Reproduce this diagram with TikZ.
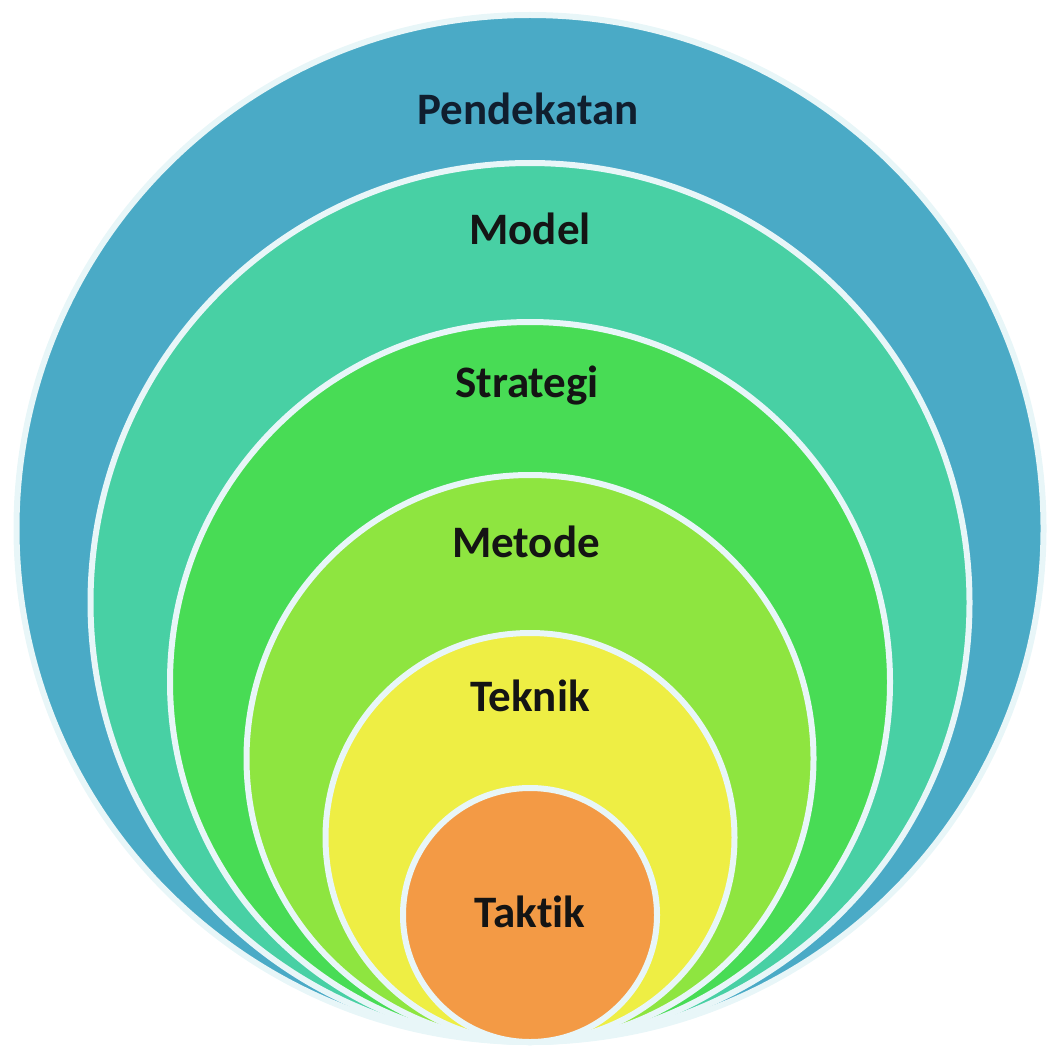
\documentclass[tikz,border=0pt]{standalone}
\usepackage{fontspec}
\setmainfont{Carlito}[Ligatures=NoCommon]
\usetikzlibrary{positioning}

\definecolor{pendekatanfill}{RGB}{74,170,198}
\definecolor{modelfill}{RGB}{72,208,164}
\definecolor{strategifill}{RGB}{72,220,85}
\definecolor{metodefill}{RGB}{142,229,64}
\definecolor{teknikfill}{RGB}{238,238,68}
\definecolor{taktikfill}{RGB}{243,154,69}
\definecolor{ringedge}{RGB}{232,246,248}
\definecolor{navytext}{RGB}{16,30,46}

\begin{document}
\begin{tikzpicture}[x=1pt, y=-1pt,
  ring/.style={circle, draw=ringedge, line width=6pt, inner sep=0pt},
  lbl/.style={anchor=base, font=\fontsize{45}{52}\selectfont\bfseries, text=black!92}]
\useasboundingbox (0,0) rectangle (1047,1051);
% nested rings, all touching at the bottom
\node[ring, fill=pendekatanfill, minimum size=1027pt] (pendekatan) at (530,528.5) {};
\node[ring, fill=modelfill, minimum size=879pt] (model) at (530,602.5) {};
\node[ring, fill=strategifill, minimum size=720pt] (strategi) at (530,682) {};
\node[ring, fill=metodefill, minimum size=567pt] (metode) at (530,758.5) {};
\node[ring, fill=teknikfill, minimum size=409pt] (teknik) at (530,837.5) {};
\node[ring, fill=taktikfill, minimum size=254pt] (taktik) at (530,915) {};
% labels
\node[lbl, text=navytext] (pendekatan-lbl) at (528,125) {Pendekatan};
\node[lbl] (model-lbl) at (530,244) {Model};
\node[lbl] (strategi-lbl) at (527,397) {Strategi};
\node[lbl] (metode-lbl) at (526,557) {Metode};
\node[lbl] (teknik-lbl) at (530,711) {Teknik};
\node[lbl] (taktik-lbl) at (530,927) {Taktik};
\end{tikzpicture}
\end{document}
